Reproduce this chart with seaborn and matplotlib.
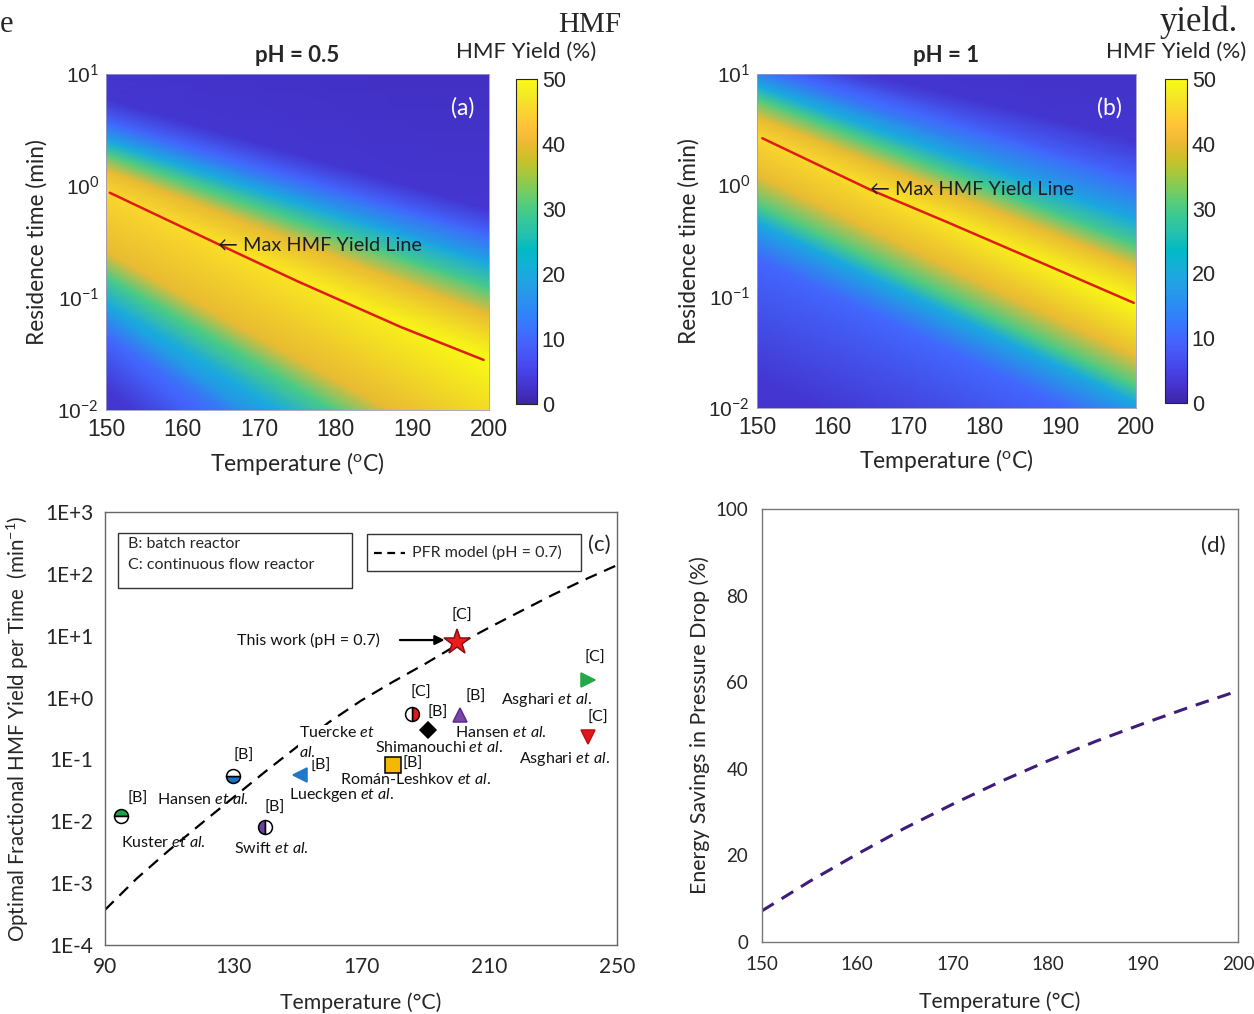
import numpy as np
import matplotlib
matplotlib.use("Agg")
import matplotlib.pyplot as plt
from matplotlib.colors import LinearSegmentedColormap
from matplotlib.patches import Rectangle
from matplotlib.ticker import FixedLocator, MultipleLocator, NullFormatter, FuncFormatter
import seaborn as sns

# ---------------- data ----------------
# (a)/(b): log10(residence time / min) of the yield contours at 150 and 200 degC
levels_up = [0, 3, 10, 20, 30, 40]          # far above ridge -> near ridge
levels_lo = [40, 30, 20, 10, 3, 0]          # near ridge -> far below ridge

a_up_150 = [3.0, 0.77, 0.57, 0.40, 0.29, 0.14]
a_up_200 = [3.0, -0.21, -0.44, -0.70, -0.92, -1.15]
a_lo_150 = [-0.59, -0.81, -1.05, -1.35, -1.82, -6.0]
a_lo_200 = [-2.49, -2.81, -3.18, -4.00, -4.80, -8.0]
a_peak = [45, 50]
a_ridge_T = [150.5, 165, 175, 188.5, 199.3]
a_ridge_t = [0.87, 0.295, 0.141, 0.055, 0.028]

b_up_150 = [3.0, 1.25, 1.08, 0.89, 0.78, 0.61]
b_up_200 = [3.0, 0.40, 0.05, -0.32, -0.54, -0.73]
b_lo_150 = [0.09, -0.18, -0.33, -0.66, -1.75, -6.0]
b_lo_200 = [-1.54, -1.81, -1.95, -2.30, -3.20, -8.0]
b_peak = [45, 50]
b_ridge_T = [150.7, 165, 175, 188, 199.7]
b_ridge_t = [2.65, 0.91, 0.47, 0.195, 0.088]

# (c) literature points
studies = ["Kuster", "Hansen", "Swift", "Lueckgen", "Román-Leshkov", "Tuercke",
           "Shimanouchi", "Hansen", "This work", "Asghari", "Asghari"]
study_T = [95, 130, 140, 151, 180, 186, 191, 201, 200, 241, 241]
study_rate = [0.0123, 0.054, 0.0081, 0.056, 0.081, 0.55, 0.30, 0.52, 7.9, 1.93, 0.23]
reactor = ["B", "B", "B", "B", "B", "C", "B", "B", "C", "C", "C"]

# (c) PFR model (pH = 0.7)
pfr_T = [90, 100, 110, 120, 130, 140, 150, 160, 170, 180, 190, 200, 210, 220, 230, 240, 250]
pfr_rate = [3.7e-4, 1.2e-3, 3.4e-3, 9.1e-3, 2.4e-2, 6.3e-2, 0.16, 0.40, 0.89, 1.8,
            3.5, 7.1, 13.5, 25, 46, 81, 138]

# (d) energy savings
sav_T = [150, 155, 160, 165, 170, 175, 180, 185, 190, 195, 200]
sav_pct = [7.2, 14.0, 20.3, 26.3, 31.8, 37.0, 41.8, 46.3, 50.4, 54.3, 58.0]

# ---------------- style ----------------
sns.set_style("white")
plt.rcParams['font.family'] = ['Lato', 'DejaVu Sans']
plt.rcParams['mathtext.fontset'] = 'custom'
plt.rcParams['mathtext.rm'] = 'Lato'
plt.rcParams['mathtext.it'] = 'Lato:italic'

parula = LinearSegmentedColormap.from_list("parula", [
    (0.2422, 0.1504, 0.6603), (0.2647, 0.1978, 0.7952), (0.2783, 0.2559, 0.8991),
    (0.2810, 0.3228, 0.9579), (0.2699, 0.3892, 0.9906), (0.2206, 0.4603, 0.9973),
    (0.1786, 0.5289, 0.9682), (0.1540, 0.5902, 0.9218), (0.1248, 0.6459, 0.8883),
    (0.0689, 0.6948, 0.8394), (0.0067, 0.7312, 0.7660), (0.1408, 0.7584, 0.6842),
    (0.2161, 0.7843, 0.5923), (0.3406, 0.8008, 0.4789), (0.5044, 0.7993, 0.3480),
    (0.6720, 0.7793, 0.2227), (0.8203, 0.7498, 0.1535), (0.9393, 0.7288, 0.2100),
    (0.9970, 0.7659, 0.2199), (0.9786, 0.8386, 0.1766), (0.9597, 0.9135, 0.1423),
    (0.9769, 0.9839, 0.0805)])

fig = plt.figure(figsize=(12.54, 10.14), dpi=100)
W, H = 1254, 1014
TICKFONT = 'Liberation Sans'


def fax(l, t, r, b):
    return [l / W, 1 - b / H, (r - l) / W, (b - t) / H]


def pow10(v, p):
    return f"10$^{{{int(round(np.log10(v)))}}}$"


def yield_panel(box, cbox, up150, up200, lo150, lo200, peak, rT, rt, title, tag, cx, arrow_xy):
    ax = fig.add_axes(fax(*box))
    lt150 = up150 + [np.log10(rt[0])] + lo150
    lt200 = up200 + [np.log10(rt[-1])] + lo200
    Y = 10 ** np.column_stack([lt150, lt200])
    X = np.tile([150.0, 200.0], (len(lt150), 1))
    Z = np.column_stack([levels_up + [peak[0]] + levels_lo,
                         levels_up + [peak[1]] + levels_lo])
    mesh = ax.pcolormesh(X, Y, Z, shading='gouraud', cmap=parula, vmin=0, vmax=50)
    sns.lineplot(x=rT, y=rt, ax=ax, color='#e01b1b', lw=1.8)
    ax.set_yscale('log')
    ax.set_xlim(150, 200)
    ax.set_ylim(1e-2, 10)
    ax.set_xticks(range(150, 201, 10))
    ax.yaxis.set_major_locator(FixedLocator([1e-2, 1e-1, 1, 10]))
    ax.yaxis.set_minor_locator(FixedLocator([]))
    ax.yaxis.set_major_formatter(FuncFormatter(pow10))
    ax.tick_params(direction='in', length=4, color='#333333', labelsize=16.5,
                   labelfontfamily=TICKFONT, pad=6)
    ax.tick_params(axis='y', labelsize=15, pad=5)
    for s in ax.spines.values():
        s.set_linewidth(0.6)
        s.set_color('#9a9ac0')
    ax.set_xlabel('Temperature ($^{\\mathrm{o}}$C)', fontsize=16.5)
    ax.set_ylabel('Residence time (min)', fontsize=16.3)
    ax.xaxis.set_label_coords(0.5, -0.158)
    ax.xaxis.label.set_verticalalignment('center')
    ax.yaxis.set_label_coords(-0.18, 0.5)
    ax.yaxis.label.set_verticalalignment('center')
    ax.text(*arrow_xy, '\u2190 Max HMF Yield Line', fontsize=14.3, color='#1c1c28',
            ha='left', va='center', family=['Lato', 'DejaVu Sans'])
    ax.text(0.93, 0.90, tag, transform=ax.transAxes, color='white', fontsize=16.5,
            ha='center', va='center')
    fig.text(cx / W, 1 - 56 / H, title, fontsize=16, fontweight='bold', ha='center', va='center')

    cax = fig.add_axes(fax(*cbox))
    cb = fig.colorbar(mesh, cax=cax, ticks=range(0, 51, 10))
    cb.outline.set_linewidth(0.8)
    cax.tick_params(direction='in', length=3, labelsize=15.5, labelfontfamily=TICKFONT)
    fig.text((cbox[0] + cbox[2]) / 2 / W, 1 - 52 / H, 'HMF Yield (%)', fontsize=16,
             ha='center', va='center')
    return ax


yield_panel((106, 74, 489, 410), (516, 79, 537, 404), a_up_150, a_up_200, a_lo_150, a_lo_200,
            a_peak, a_ridge_T, a_ridge_t, 'pH = 0.5', '(a)', 297, (164.6, 10 ** -0.527))
yield_panel((757, 74, 1136, 408), (1165, 79, 1187, 403), b_up_150, b_up_200, b_lo_150, b_lo_200,
            b_peak, b_ridge_T, b_ridge_t, 'pH = 1', '(b)', 946, (164.9, 10 ** -0.04))

# ---------------- (c) ----------------
axc = fig.add_axes(fax(105, 512, 617, 945))
sns.lineplot(x=pfr_T, y=pfr_rate, ax=axc, color='black', lw=1.6,
             linestyle=(0, (5.5, 3.6)))
axc.set_yscale('log')
axc.set_xlim(90, 250)
axc.set_ylim(1e-4, 1e3)

marker_styles = [
    dict(marker='o', mfc='#22a045', fillstyle='top', ms=10),
    dict(marker='o', mfc='#1f6fc4', fillstyle='bottom', ms=10),
    dict(marker='o', mfc='#6b3fa0', fillstyle='left', ms=10),
    dict(marker='<', mfc='#1f78c8', mec='#1f78c8', ms=10),
    dict(marker='s', mfc='#f5b800', ms=11),
    dict(marker='o', mfc='#e3161b', fillstyle='right', ms=10),
    dict(marker='D', mfc='black', ms=8),
    dict(marker='^', mfc='#7a44a8', mec='#5a2f88', ms=10),
    dict(marker='*', mfc='#ee1c1c', mec='#8a1010', ms=19),
    dict(marker='>', mfc='#22a845', mec='#22a845', ms=10),
    dict(marker='v', mfc='#e3161b', mec='#c01010', ms=10),
]
for T, r, st in zip(study_T, study_rate, marker_styles):
    kw = dict(mec='black', mew=1.1, markerfacecoloralt='white', ls='none')
    kw.update(st)
    axc.plot([T], [r], **kw, zorder=5)

ann = 11.5
notes = [
    ("[B]", 96.9, -1.64), ("Kuster $\\it{et\\ al.}$", 95, -2.35),
    ("[B]", 130.3, -0.94), ("Hansen $\\it{et\\ al.}$", 106.3, -1.65),
    ("[B]", 139.7, -1.78), ("Swift $\\it{et\\ al.}$", 130.3, -2.44),
    ("[B]", 154.1, -1.10), ("Lueckgen $\\it{et\\ al.}$", 147.5, -1.57),
    ("[C]", 185.6, 0.08),
    ("[B]", 190.9, -0.25), ("Shimanouchi $\\it{et\\ al.}$", 174.4, -0.81),
    ("[B]", 183.1, -1.07), ("Román-Leshkov $\\it{et\\ al.}$", 163.4, -1.33),
    ("[B]", 202.8, 0.01), ("Hansen $\\it{et\\ al.}$", 199.4, -0.57),
    ("[C]", 198.4, 1.32), ("This work (pH = 0.7)", 131.3, 0.93),
    ("[C]", 240.0, 0.64), ("Asghari $\\it{et\\ al.}$", 213.8, -0.04),
    ("[C]", 240.9, -0.33), ("Asghari $\\it{et\\ al.}$", 219.4, -0.99),
]
for txt, x, ly in notes:
    axc.text(x, 10 ** ly, txt, fontsize=ann, ha='left', va='center', color='#111111')
axc.text(150.6, 10 ** -0.57, "Tuercke $\\it{et}$", fontsize=ann, ha='left', va='center',
         color='#111111', bbox=dict(fc='white', ec='none', pad=0.5), zorder=4)
axc.text(150.6, 10 ** -0.88, "$\\it{al.}$", fontsize=ann, ha='left', va='center',
         color='#111111', bbox=dict(fc='white', ec='none', pad=0.5), zorder=4)
axc.annotate('', xy=(197.0, 10 ** 0.93), xytext=(181.3, 10 ** 0.93),
             arrowprops=dict(arrowstyle='-|>', color='black', lw=1.6, mutation_scale=14))

axc.add_patch(Rectangle((0.025, 0.824), 0.457, 0.128, transform=axc.transAxes,
                        fc='white', ec='#333333', lw=1.0, zorder=6))
axc.text(0.045, 0.926, 'B: batch reactor', transform=axc.transAxes, fontsize=ann,
         va='center', zorder=7)
axc.text(0.045, 0.877, 'C: continuous flow reactor', transform=axc.transAxes, fontsize=ann,
         va='center', zorder=7)
axc.add_patch(Rectangle((0.512, 0.864), 0.418, 0.085, transform=axc.transAxes,
                        fc='white', ec='#333333', lw=1.0, zorder=6))
axc.plot([0.525, 0.586], [0.906, 0.906], transform=axc.transAxes, color='black', lw=1.6,
         linestyle=(0, (3.5, 2.5)), zorder=7)
axc.text(0.600, 0.906, 'PFR model (pH = 0.7)', transform=axc.transAxes, fontsize=ann,
         va='center', zorder=7)
axc.text(0.943, 0.924, '(c)', transform=axc.transAxes, fontsize=16, va='center')

decades = [10.0 ** k for k in range(-4, 4)]
axc.yaxis.set_major_locator(FixedLocator(decades))
axc.yaxis.set_minor_locator(FixedLocator([d * m for d in decades[:-1] for m in range(2, 10)]))
axc.yaxis.set_minor_formatter(NullFormatter())
axc.yaxis.set_major_formatter(FuncFormatter(lambda v, p: f"1E{int(round(np.log10(v))):+d}"))
axc.set_xticks(range(90, 251, 40))
axc.xaxis.set_minor_locator(MultipleLocator(10))
axc.tick_params(which='major', direction='inout', length=9, color='#555555', labelsize=15,
                pad=4)
axc.tick_params(which='minor', direction='in', length=4, color='#555555')
axc.tick_params(axis='y', which='minor', direction='inout', length=6)
for s in axc.spines.values():
    s.set_color('#666666')
    s.set_linewidth(1.0)
axc.set_xlabel('Temperature (°C)', fontsize=15.3)
axc.set_ylabel('Optimal Fractional HMF Yield per Time  (min$^{-1}$)', fontsize=14.8)
axc.xaxis.set_label_coords(0.5, -0.134)
axc.xaxis.label.set_verticalalignment('center')
axc.yaxis.set_label_coords(-0.170, 0.5)
axc.yaxis.label.set_verticalalignment('center')

# ---------------- (d) ----------------
axd = fig.add_axes(fax(762, 509, 1238, 942))
sns.lineplot(x=sav_T, y=sav_pct, ax=axd, color='#3d1c7c', lw=2.2,
             linestyle=(0, (4.5, 3)))
axd.set_xlim(150, 200)
axd.set_ylim(0, 100)
axd.set_xticks(range(150, 201, 10))
axd.set_yticks(range(0, 101, 20))
axd.tick_params(direction='out', length=5, color='#666666', labelsize=13.5, pad=5)
for s in axd.spines.values():
    s.set_color('#777777')
    s.set_linewidth(1.0)
axd.set_xlabel('Temperature (°C)', fontsize=15.3)
axd.set_ylabel('Energy Savings in Pressure Drop (%)', fontsize=15.3)
axd.xaxis.set_label_coords(0.5, -0.139)
axd.xaxis.label.set_verticalalignment('center')
axd.yaxis.set_label_coords(-0.130, 0.5)
axd.yaxis.label.set_verticalalignment('center')
axd.text(0.948, 0.915, '(d)', transform=axd.transAxes, fontsize=16, ha='center', va='center')

# stray text from the surrounding page
fig.text(0 / W, 1 - 25 / H, 'e', family='Liberation Serif', fontsize=22, va='center')
fig.text(590 / W, 1 - 25 / H, 'HMF', family='Liberation Serif', fontsize=21,
         ha='center', va='center')
fig.text(1238 / W, 1 - 22 / H, 'yield.', family='Liberation Serif', fontsize=25,
         ha='right', va='center')

fig.savefig('out.png', dpi=100)
